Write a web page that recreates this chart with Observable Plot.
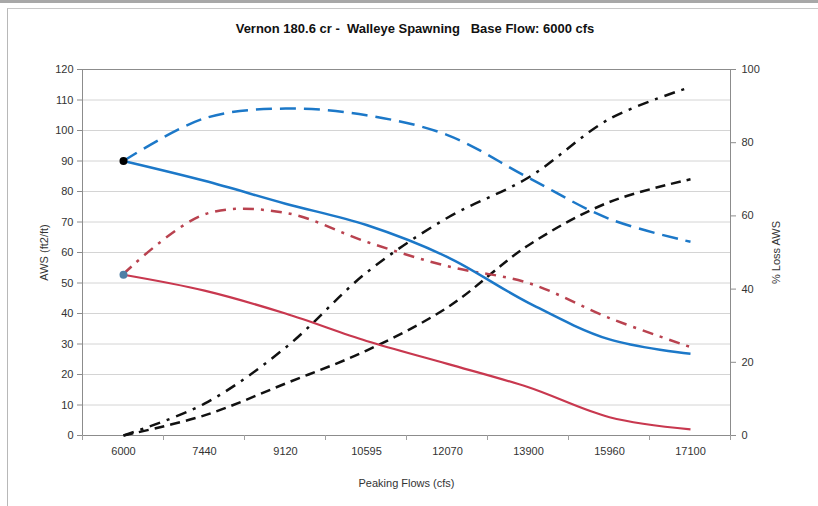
<!DOCTYPE html>
<html>
<head>
<meta charset="utf-8">
<script src="https://cdn.jsdelivr.net/npm/d3@7"></script>
<script src="https://cdn.jsdelivr.net/npm/@observablehq/plot@0.6"></script>
<style>
  html, body { margin: 0; padding: 0; background: #fff; }
  body { width: 818px; height: 506px; position: relative; overflow: hidden; font-family: "Liberation Sans", Arial, sans-serif; }
  #topbar { position: absolute; left: 0; top: 0; width: 818px; height: 3px; background: #a8a8a8; }
  #box { position: absolute; left: 7px; top: 8px; width: 811px; height: 498px; border-left: 1px solid #b8b8b8; border-top: 1px solid #c8c8c8; }
  #title { position: absolute; left: 0; top: 21px; width: 830px; text-align: center; font-weight: bold; font-size: 13px; color: #111; white-space: pre; }
  #chart { position: absolute; left: 0; top: 45px; }
</style>
</head>
<body>
<div id="topbar"></div>
<div id="box"></div>
<div id="title">Vernon 180.6 cr -  Walleye Spawning   Base Flow: 6000 cfs</div>
<div id="chart"></div>
<script>
const flows = ["6000", "7440", "9120", "10595", "12070", "13900", "15960", "17100"];
// AWS (ft2/ft), left axis
const awsBlueSolid  = [90, 83.5, 76, 69, 58.5, 43.5, 31.5, 26.8];
const awsBlueDashed = [90, 104, 107.2, 105, 98.5, 84.5, 71, 63.5];
const awsRedSolid   = [52.7, 47.5, 40, 31, 23.5, 15.8, 6, 2];
const awsRedDashDot = [53, 72.5, 73, 63.5, 55.5, 50, 38.5, 29];
// % Loss AWS, right axis
const lossDashDot = [0, 8.7, 24, 44.5, 59.5, 70.5, 86.5, 95.2];
const lossDashed  = [0, 5.5, 14.2, 23.2, 35, 52, 63.8, 70];
const rightTicks = [0, 20, 40, 60, 80, 100];
const leftTicks = d3.range(0, 121, 10);

const k = 120 / 100; // right-axis to left-axis factor
const mk = (vals, f = 1) => flows.map((x, i) => ({x, y: vals[i] * f}));

const blue = "#1c78c8";
const red = "#c8384f";
const redDash = "#b9424f";

// Category boundary tick marks (Excel "between tick marks" style)
function boundaryTicks(index, scales, values, dims) {
  const xs = flows.map(scales.x);
  const step = xs[1] - xs[0];
  const g = d3.create("svg:g");
  const y0 = dims.height - dims.marginBottom;
  for (let i = 0; i <= xs.length; i++) {
    const bx = (i < xs.length ? xs[i] : xs[xs.length - 1] + step) - step / 2;
    g.append("line").attr("x1", bx).attr("x2", bx).attr("y1", y0).attr("y2", y0 + 5)
      .attr("stroke", "#a0a0a0");
  }
  return g.node();
}

const lineOpts = {x: "x", y: "y", curve: "catmull-rom", strokeWidth: 2.5, strokeLinecap: "butt"};

const chart = Plot.plot({
  width: 818,
  height: 461,
  marginLeft: 82,
  marginRight: 88,
  marginTop: 24,
  marginBottom: 71,
  style: {fontFamily: "'Liberation Sans', Arial, sans-serif", fontSize: "11px", color: "#333", background: "transparent"},
  x: {type: "point", domain: flows, padding: 0.5},
  y: {domain: [0, 120]},
  marks: [
    Plot.gridY(leftTicks.filter(d => d > 0 && d < 120), {stroke: "#d4d4d4", strokeOpacity: 1}),
    Plot.frame({stroke: "#8c8c8c"}),
    Plot.axisY({anchor: "left", ticks: leftTicks, tickSize: 5, tickPadding: 4, label: null, stroke: "#8c8c8c", fill: "#333"}),
    Plot.axisY({anchor: "right", ticks: rightTicks.map(d => d * k), tickFormat: d => Math.round(d / k), tickSize: 5, tickPadding: 6, label: null, stroke: "#8c8c8c", fill: "#333"}),
    Plot.axisX({tickSize: 0, tickPadding: 12, label: null, fill: "#333"}),
    boundaryTicks,
    Plot.text(["AWS (ft2/ft)"], {frameAnchor: "left", dx: -38, rotate: -90, textAnchor: "middle", fill: "#333"}),
    Plot.text(["% Loss AWS"], {frameAnchor: "right", dx: 46, rotate: -90, textAnchor: "middle", fill: "#333"}),
    Plot.text(["Peaking Flows (cfs)"], {frameAnchor: "bottom", dy: 51, textAnchor: "middle", fill: "#333"}),
    Plot.line(mk(lossDashed, k), {...lineOpts, stroke: "#111", strokeDasharray: "10,6"}),
    Plot.line(mk(lossDashDot, k), {...lineOpts, stroke: "#111", strokeDasharray: "11,7,3,7"}),
    Plot.line(mk(awsRedSolid), {...lineOpts, stroke: red, strokeWidth: 2.2}),
    Plot.line(mk(awsRedDashDot), {...lineOpts, stroke: redDash, strokeDasharray: "11,7,3,7"}),
    Plot.line(mk(awsBlueSolid), {...lineOpts, stroke: blue}),
    Plot.line(mk(awsBlueDashed), {...lineOpts, stroke: blue, strokeDasharray: "16,8"}),
    Plot.dot(mk(awsBlueSolid).slice(0, 1), {x: "x", y: "y", r: 4, fill: "#000", stroke: "none"}),
    Plot.dot(mk(awsRedSolid).slice(0, 1), {x: "x", y: "y", r: 4, fill: "#4f7fa6", stroke: "none"})
  ]
});
document.getElementById("chart").appendChild(chart);
</script>
</body>
</html>
